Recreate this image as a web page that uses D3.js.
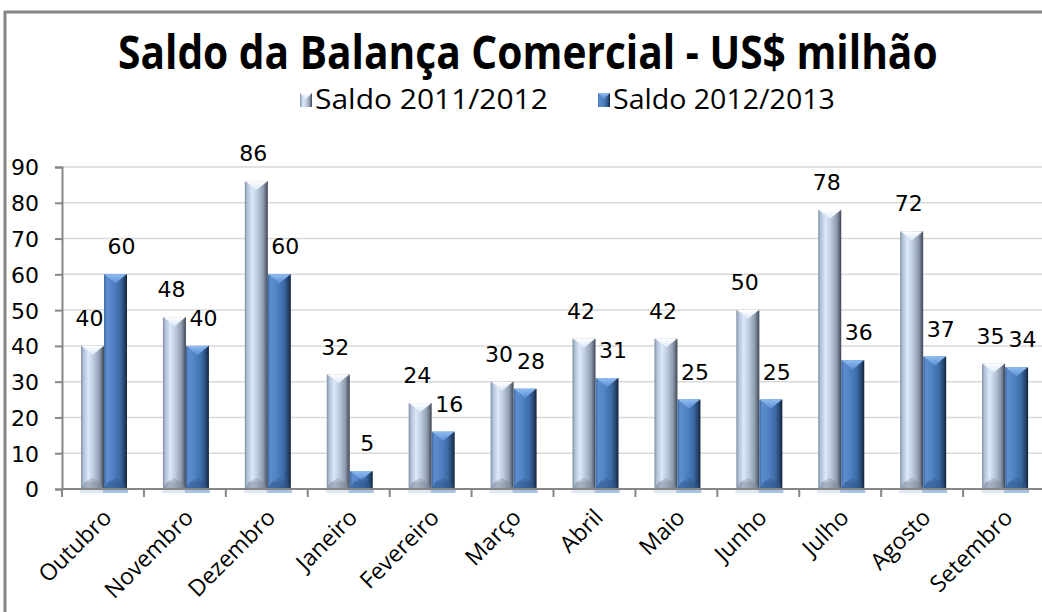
<!DOCTYPE html>
<html>
<head>
<meta charset="utf-8">
<script src="https://cdn.jsdelivr.net/npm/d3@7"></script>
<style>
  html, body { margin: 0; padding: 0; background: #ffffff; }
  svg { display: block; }
</style>
</head>
<body>
<script>
// ---- data ----
const categories = ["Outubro", "Novembro", "Dezembro", "Janeiro", "Fevereiro", "Março",
                    "Abril", "Maio", "Junho", "Julho", "Agosto", "Setembro"];
const saldo2011_2012 = [40, 48, 86, 32, 24, 30, 42, 42, 50, 78, 72, 35];
const saldo2012_2013 = [60, 40, 60, 5, 16, 28, 31, 25, 25, 36, 37, 34];
const seriesNames = ["Saldo 2011/2012", "Saldo 2012/2013"];
const yTicks = [0, 10, 20, 30, 40, 50, 60, 70, 80, 90];
const titleText = "Saldo da Balança Comercial - US$ milhão";

// ---- layout ----
const W = 1042, H = 612;
const plot = { left: 62, right: 1045, top: 167, bottom: 489 };

const svg = d3.select("body").append("svg").attr("width", W).attr("height", H);
const defs = svg.append("defs");

function hGrad(id, stops) {
  const g = defs.append("linearGradient").attr("id", id)
    .attr("x1", "0%").attr("x2", "100%").attr("y1", "0%").attr("y2", "0%");
  stops.forEach(s => g.append("stop").attr("offset", s[0]).attr("stop-color", s[1]));
}
function vGrad(id, stops) {
  const g = defs.append("linearGradient").attr("id", id)
    .attr("x1", "0%").attr("x2", "0%").attr("y1", "0%").attr("y2", "100%");
  stops.forEach(s => g.append("stop").attr("offset", s[0]).attr("stop-color", s[1]));
}
hGrad("gLight", [["0%", "#7f8ca0"], ["10%", "#afbfd6"], ["32%", "#dce9fa"], ["55%", "#bccadd"], ["80%", "#909db0"], ["92%", "#5f6a7a"], ["100%", "#3c4450"]]);
hGrad("gDark", [["0%", "#3f6aa2"], ["12%", "#5c8dcf"], ["40%", "#4f82c4"], ["70%", "#3c6aa4"], ["88%", "#26456e"], ["100%", "#122238"]]);
vGrad("gLightTop", [["0%", "#ffffff"], ["100%", "#dbe8f8"]]);
vGrad("gDarkTop", [["0%", "#8fbcf2"], ["100%", "#5b8fd2"]]);

const series = [
  { name: seriesNames[0], values: saldo2011_2012, fill: "url(#gLight)", top: "url(#gLightTop)", side: "#c4cfdd", base: "#7c8796", glow: "#dfe8f4", ldx: -3 },
  { name: seriesNames[1], values: saldo2012_2013, fill: "url(#gDark)", top: "url(#gDarkTop)", side: "#6f9bd6", base: "#2e5485", glow: "#a9c3e6", ldx: 6 }
];

// fit a text horizontally into [left, left+width] by scaling x only
function fitText(sel, left, baseline, width) {
  const w = sel.node().getComputedTextLength();
  const sx = width / w;
  sel.attr("x", 0).attr("y", 0).attr("text-anchor", "start")
    .attr("transform", `translate(${left},${baseline}) scale(${sx},1)`);
}

// ---- scales ----
const x = d3.scaleBand().domain(categories).range([plot.left, plot.right]).padding(0);
const x1 = d3.scaleBand().domain([0, 1]).range([19, 65]).padding(0);
const y = d3.scaleLinear().domain([0, 90]).range([plot.bottom, plot.top]);

// ---- frame ----
svg.append("line").attr("x1", 5).attr("x2", 5).attr("y1", 11).attr("y2", H)
  .attr("stroke", "#858585").attr("stroke-width", 3);
svg.append("line").attr("x1", 4).attr("x2", W).attr("y1", 12).attr("y2", 12)
  .attr("stroke", "#858585").attr("stroke-width", 3);

// ---- title ----
const title = svg.append("text")
  .style("font-family", "'Open Sans', sans-serif")
  .style("font-weight", "bold")
  .style("font-size", "46px")
  .attr("fill", "#000")
  .text(titleText);
fitText(title, 118, 69, 820);

// ---- legend ----
const legendX = [300, 598];
const legendTextW = [233, 222];
series.forEach((s, i) => {
  const g = svg.append("g").attr("transform", `translate(${legendX[i]},93)`);
  g.append("rect").attr("width", 12).attr("height", 14).attr("fill", s.fill);
  g.append("path").attr("d", "M0,0 L12,0 L6,6 Z").attr("fill", s.top);
  const t = g.append("text")
    .style("font-family", "'Open Sans', sans-serif")
    .style("font-size", "27px")
    .attr("fill", "#000")
    .text(s.name);
  fitText(t, 15, 16, legendTextW[i]);
});

// ---- gridlines ----
svg.append("g").selectAll("line").data(yTicks.filter(d => d > 0)).join("line")
  .attr("x1", plot.left).attr("x2", W)
  .attr("y1", d => y(d)).attr("y2", d => y(d))
  .attr("stroke", "#d9d9d9").attr("stroke-width", 1.5);

// ---- y axis ----
const yAxis = svg.append("g").attr("transform", `translate(${plot.left},0)`)
  .call(d3.axisLeft(y).tickValues(yTicks).tickSize(7).tickPadding(16));
yAxis.select(".domain").attr("stroke", "#868686").attr("stroke-width", 2);
yAxis.selectAll(".tick line").attr("stroke", "#868686").attr("stroke-width", 2);
yAxis.selectAll(".tick text")
  .style("font-family", "'DejaVu Sans', sans-serif")
  .style("font-size", "22px").attr("fill", "#000").attr("dy", "0.36em");

// ---- bars ----
const bh = y(0);
categories.forEach((c, ci) => {
  series.forEach((s, si) => {
    const v = s.values[ci];
    const x0 = x(c) + x1(si), w = x1.bandwidth(), x2 = x0 + w;
    const yt = y(v);
    const cx = x0 + w / 2;
    const g = svg.append("g");
    // glow below
    g.append("rect").attr("x", x0 - 1).attr("y", bh).attr("width", w + 2).attr("height", 4)
      .attr("fill", s.glow);
    g.append("rect").attr("x", x0).attr("y", yt).attr("width", w).attr("height", bh - yt)
      .attr("fill", s.fill);
    const bev = Math.min(9, (bh - yt) / 2);
    // top chevron highlight
    g.append("path")
      .attr("d", `M${x0},${yt} L${x2},${yt} L${x2 - 4},${yt + 3} L${cx},${yt + bev} L${x0 + 4},${yt + 3} Z`)
      .attr("fill", s.side);
    g.append("path")
      .attr("d", `M${x0 + 1},${yt} L${x2 - 1},${yt} L${cx},${yt + bev} Z`)
      .attr("fill", s.top);
    // bottom bevel
    const bb = Math.min(7, (bh - yt) / 2);
    g.append("path")
      .attr("d", `M${x0 + 4},${bh - bb} L${x2 - 4},${bh - bb} L${x2},${bh} L${x0},${bh} Z`)
      .attr("fill", s.base).attr("opacity", 0.55);
    g.append("path")
      .attr("d", `M${x0 + 4},${bh - bb} L${cx},${bh - bb - 4} L${x2 - 4},${bh - bb} Z`)
      .attr("fill", s.base).attr("opacity", 0.35);
    // label
    svg.append("text")
      .attr("x", cx + s.ldx).attr("y", yt - 20)
      .attr("text-anchor", "middle")
      .style("font-family", "'DejaVu Sans', sans-serif")
      .style("font-size", "22px").attr("fill", "#000")
      .text(d3.format("d")(v));
  });
});

// ---- x axis ----
const xAxisG = svg.append("g");
xAxisG.append("line").attr("x1", plot.left).attr("x2", W).attr("y1", plot.bottom).attr("y2", plot.bottom)
  .attr("stroke", "#868686").attr("stroke-width", 2);
xAxisG.selectAll("line.tick").data(categories).join("line").attr("class", "tick")
  .attr("x1", d => x(d)).attr("x2", d => x(d))
  .attr("y1", plot.bottom).attr("y2", plot.bottom + 8)
  .attr("stroke", "#868686").attr("stroke-width", 2);
xAxisG.selectAll("text").data(categories).join("text")
  .attr("transform", d => `translate(${x(d) + x.bandwidth() / 2 + 10},${plot.bottom + 30}) rotate(-45)`)
  .attr("text-anchor", "end")
  .style("font-family", "'Open Sans', sans-serif")
  .style("font-size", "23px").attr("fill", "#000")
  .text(d => d);
</script>
</body>
</html>
